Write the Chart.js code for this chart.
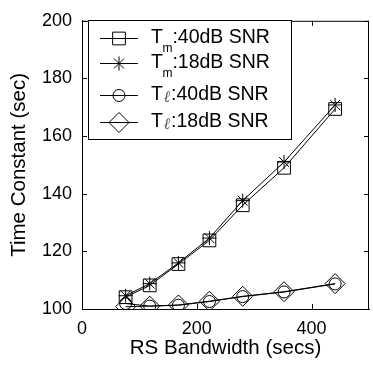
<!DOCTYPE html>
<html>
<head>
<meta charset="utf-8">
<script src="https://cdn.jsdelivr.net/npm/chart.js@4.4.0/dist/chart.umd.min.js"></script>
<style>
  html, body { margin: 0; padding: 0; overflow: hidden; background: #fff; }
  canvas { display: block; }
</style>
</head>
<body>
<canvas id="canvas" width="380" height="367"></canvas>
<script>
var bandwidth = [76, 118, 168, 222, 280, 352, 441];
var tm40 = [104.1, 108.2, 115.6, 123.8, 136.0, 149.0, 169.4];
var tm18 = [104.6, 108.8, 116.0, 124.6, 137.6, 151.0, 170.8];
var tl40 = [101.9, 101.0, 101.3, 102.6, 104.3, 105.9, 108.7];
var tl18 = [100.8, 101.0, 101.4, 102.7, 104.4, 106.0, 108.8];
var xTicks = [0, 200, 400];
var yTicks = [100, 120, 140, 160, 180, 200];

var FONT = "'Liberation Sans', Arial, sans-serif";

function pts(ys) {
  return bandwidth.map(function (x, i) { return { x: x, y: ys[i] }; });
}

var series = [
  { sub: 'm', text: ':40dB SNR', data: tm40, style: 'rect', radius: 9 },
  { sub: 'm', text: ':18dB SNR', data: tm18, style: 'star', radius: 7 },
  { sub: 'ℓ', text: ':40dB SNR', data: tl40, style: 'circle', radius: 6 },
  { sub: 'ℓ', text: ':18dB SNR', data: tl18, style: 'rectRot', radius: 10 }
];

// marker drawn the same way in the legend
function marker(ctx, style, r, x, y) {
  ctx.beginPath();
  if (style === 'rect') {
    var s = r * Math.SQRT1_2;
    ctx.rect(x - s, y - s, 2 * s, 2 * s);
  } else if (style === 'star') {
    ctx.moveTo(x, y - r); ctx.lineTo(x, y + r);
    ctx.moveTo(x - r, y); ctx.lineTo(x + r, y);
    var d = r * Math.SQRT1_2;
    ctx.moveTo(x - d, y - d); ctx.lineTo(x + d, y + d);
    ctx.moveTo(x - d, y + d); ctx.lineTo(x + d, y - d);
  } else if (style === 'circle') {
    ctx.arc(x, y, r, 0, Math.PI * 2);
  } else {
    ctx.moveTo(x, y - r); ctx.lineTo(x + r, y);
    ctx.lineTo(x, y + r); ctx.lineTo(x - r, y);
    ctx.closePath();
  }
  ctx.stroke();
}

var framePlugin = {
  id: 'frame',
  beforeDatasetsDraw: function (chart) {
    var ctx = chart.ctx, a = chart.chartArea;
    var xs = chart.scales.x, ys = chart.scales.y;
    ctx.save();
    ctx.strokeStyle = '#000';
    ctx.lineWidth = 1;
    ctx.beginPath();
    ctx.moveTo(a.left, a.top + 0.5); ctx.lineTo(a.right, a.top + 0.5);
    ctx.moveTo(a.right - 0.5, a.top); ctx.lineTo(a.right - 0.5, a.bottom);
    xTicks.forEach(function (v) {
      var px = Math.round(xs.getPixelForValue(v)) + 0.5;
      ctx.moveTo(px, a.bottom); ctx.lineTo(px, a.bottom - 5);
      ctx.moveTo(px, a.top); ctx.lineTo(px, a.top + 5);
    });
    yTicks.forEach(function (v) {
      var py = Math.round(ys.getPixelForValue(v)) + 0.5;
      ctx.moveTo(a.left, py); ctx.lineTo(a.left + 5, py);
      ctx.moveTo(a.right, py); ctx.lineTo(a.right - 5, py);
    });
    ctx.stroke();
    ctx.restore();
  }
};

var legendPlugin = {
  id: 'boxLegend',
  afterDatasetsDraw: function (chart) {
    var ctx = chart.ctx;
    var rows = [38, 63, 95, 122];
    ctx.save();
    ctx.fillStyle = '#fff';
    ctx.fillRect(88, 20, 203, 119);
    ctx.strokeStyle = '#000';
    ctx.lineWidth = 1;
    ctx.strokeRect(88.5, 20.5, 203, 119);
    series.forEach(function (s, i) {
      var y = rows[i];
      ctx.beginPath();
      ctx.moveTo(100, y + 0.5); ctx.lineTo(138, y + 0.5);
      ctx.stroke();
      marker(ctx, s.style, s.radius, 119, y + 0.5);
      ctx.fillStyle = '#000';
      ctx.textBaseline = 'alphabetic';
      ctx.font = '19.5px ' + FONT;
      var x = 151, base = y + 5;
      ctx.fillText('T', x, base);
      x += ctx.measureText('T').width - 0.5;
      if (s.sub === 'm') {
        ctx.font = '12px ' + FONT;
        ctx.fillText('m', x, base + 9);
        x += ctx.measureText('m').width;
      } else {
        ctx.font = 'italic 16px "DejaVu Serif", serif';
        ctx.fillStyle = '#555';
        ctx.fillText('ℓ', x + 1, base + 2);
        x += ctx.measureText('ℓ').width + 2;
        ctx.fillStyle = '#000';
      }
      ctx.font = '19.5px ' + FONT;
      ctx.fillText(s.text, x, base);
    });
    ctx.restore();
  }
};

var datasets = series.map(function (s) {
  return {
    data: pts(s.data),
    borderColor: '#000',
    borderWidth: 1,
    pointStyle: s.style,
    pointRadius: s.radius,
    pointHoverRadius: s.radius,
    pointBorderColor: '#000',
    pointBackgroundColor: 'rgba(0,0,0,0)',
    pointBorderWidth: 1,
    tension: 0,
    fill: false
  };
});

window.onload = function () {
  var ctx = document.getElementById('canvas').getContext('2d');
  window.myChart = new Chart(ctx, {
    type: 'line',
    data: { datasets: datasets },
    plugins: [framePlugin, legendPlugin],
    options: {
      responsive: false,
      animation: false,
      devicePixelRatio: 1,
      layout: { padding: { top: 15, right: 4, left: 0, bottom: 0 } },
      plugins: { legend: { display: false }, tooltip: { enabled: false } },
      scales: {
        x: {
          type: 'linear',
          min: 0,
          max: 500,
          afterBuildTicks: function (scale) {
            scale.ticks = xTicks.map(function (v) { return { value: v }; });
          },
          afterFit: function (scale) { scale.height = 58; },
          grid: { display: false, drawTicks: false, tickLength: 0 },
          border: { display: true, color: '#000', width: 1 },
          ticks: { color: '#000', padding: 9, maxRotation: 0, font: { family: FONT, size: 18 } },
          title: {
            display: true,
            text: 'RS Bandwidth (secs)',
            color: '#000',
            padding: { top: 0, bottom: 6 },
            font: { family: FONT, size: 20.5 }
          }
        },
        y: {
          min: 100,
          max: 200,
          afterBuildTicks: function (scale) {
            scale.ticks = yTicks.map(function (v) { return { value: v }; });
          },
          afterFit: function (scale) { scale.width = 82; },
          grid: { display: false, drawTicks: false, tickLength: 0 },
          border: { display: true, color: '#000', width: 1 },
          ticks: { color: '#000', padding: 10, font: { family: FONT, size: 18 } },
          title: {
            display: true,
            text: 'Time Constant (sec)',
            color: '#000',
            padding: { top: 7, bottom: 0 },
            font: { family: FONT, size: 20.5 }
          }
        }
      }
    }
  });
};
</script>
</body>
</html>
